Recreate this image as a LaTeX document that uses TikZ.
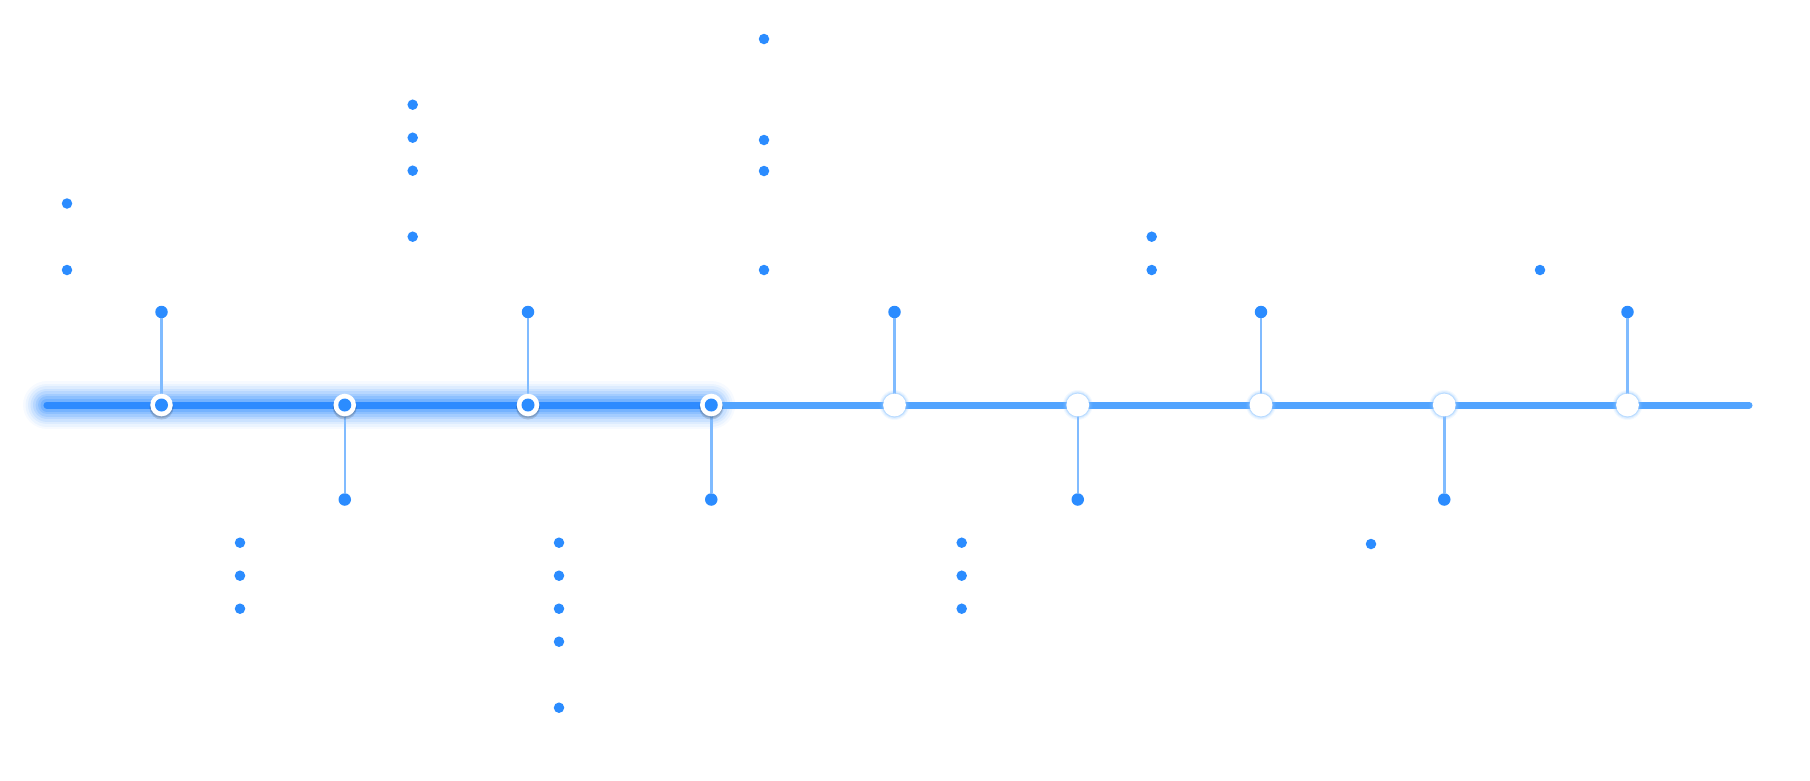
\documentclass[tikz,border=0pt]{standalone}
\definecolor{dotblue}{HTML}{2B8CFF}
\definecolor{lineblue}{HTML}{52A4FF}
\definecolor{stemblue}{HTML}{80BBFF}
\definecolor{glowblue}{HTML}{2E8BFF}
\definecolor{haloblue}{HTML}{8CC4FF}
\begin{document}
\begin{tikzpicture}[x=1pt,y=-1pt,
  every node/.style={inner sep=0pt,outer sep=0pt},
  bullet/.style={circle,fill=dotblue,minimum size=10.5pt},
  tipdot/.style={circle,fill=dotblue,minimum size=12.5pt},
  stem/.style={draw=stemblue,line width=2.5pt},
  track/.style={draw=lineblue,line width=7pt,line cap=round},
  donetrack/.style={draw=glowblue,line width=7pt,line cap=round}]
\useasboundingbox (0,0) rectangle (1810,780);

% ends of the track and of its completed part
\coordinate (start) at (47,405);
\coordinate (finish) at (1749,405);
\coordinate (done) at (711.25,405);

% soft glow under the completed part
\foreach \w/\o in {48/0.04,43/0.06,38/0.08,33/0.10,28/0.12,23/0.15,18/0.19,13/0.25}
  \draw[draw=glowblue,line width=\w pt,opacity=\o,line cap=round] (start) -- (done);

\draw[track] (start) -- (finish);
\draw[donetrack] (start) -- (done);

% milestones with their stems
\foreach \i in {0,...,8} {
  \pgfmathsetmacro\xx{161.5+183.25*\i}
  \pgfmathsetmacro\yy{mod(\i,2)==0 ? 312 : 499.5}
  \coordinate (n\i) at (\xx,405);
  \node[tipdot] (t\i) at (\xx,\yy) {};
  \draw[stem] (n\i) -- (t\i);
}
\foreach \i in {0,...,3} {
  \fill[black,opacity=0.12] ([yshift=-2.6pt]n\i) circle (12);
  \fill[black,opacity=0.12] ([yshift=-1.6pt]n\i) circle (11.5);
  \node[circle,fill=white,minimum size=22.6pt] (m\i) at (n\i) {};
  \node[circle,fill=dotblue,minimum size=13pt] at (m\i) {};
}
\foreach \i in {4,...,8} {
  \foreach \r/\o in {15/0.10,14/0.16,13/0.24,12.3/0.35}
    \fill[haloblue,opacity=\o] (n\i) circle (\r);
  \node[circle,fill=white,minimum size=22.8pt] (m\i) at (n\i) {};
}

% list bullets
\foreach \x/\y [count=\k] in {
  67/203.5, 67/270,
  240/542.7, 240/575.7, 240/608.7,
  412.7/104.7, 412.7/137.7, 412.7/170.7, 412.7/236.7,
  559/542.7, 559/575.7, 559/608.7, 559/641.7, 559/707.7,
  764/39, 764/140, 764/171, 764/270,
  961.7/542.7, 961.7/575.7, 961.7/608.7,
  1151.7/236.7, 1151.7/270,
  1371/544,
  1540/270}
  \node[bullet] (b\k) at (\x,\y) {};
\end{tikzpicture}
\end{document}
